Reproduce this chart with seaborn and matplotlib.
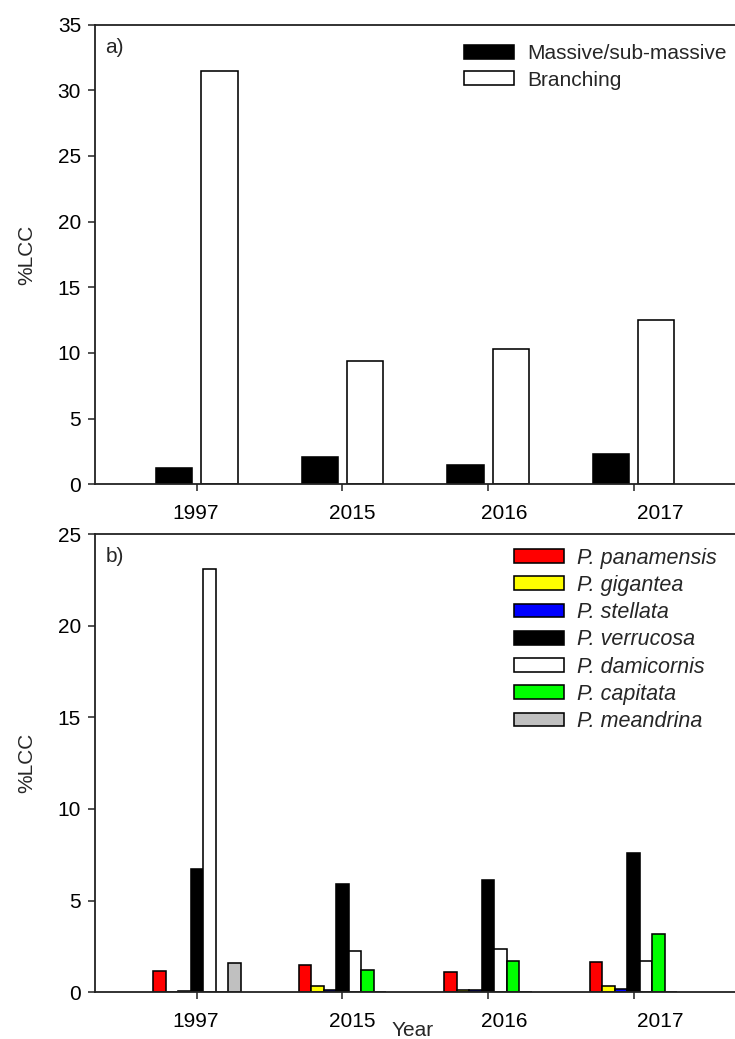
import numpy as np
import pandas as pd
import seaborn as sns
import matplotlib.pyplot as plt
import matplotlib.transforms as mtransforms

# data
years = ["1997", "2015", "2016", "2017"]

forms = ["Massive/sub-massive", "Branching"]
massive = [1.25, 2.05, 1.45, 2.28]
branching = [31.45, 9.42, 10.28, 12.5]

species = ["P. panamensis", "P. gigantea", "P. stellata", "P. verrucosa",
           "P. damicornis", "P. capitata", "P. meandrina"]
panamensis = [1.17, 1.5, 1.1, 1.65]
gigantea = [0.0, 0.33, 0.12, 0.33]
stellata = [0.05, 0.14, 0.12, 0.2]
verrucosa = [6.75, 5.9, 6.12, 7.58]
damicornis = [23.1, 2.25, 2.36, 1.7]
capitata = [0.0, 1.22, 1.72, 3.18]
meandrina = [1.58, 0.0, 0.0, 0.0]

form_colors = ["black", "white"]
species_colors = ["#ff0000", "#ffff00", "#0000ff", "black", "white", "#00ff00", "#c0c0c0"]

label_shift = [-1, 10, 16, 27]  # tick labels in the original drift to the right

df_a = pd.DataFrame({
    "year": years * 2,
    "form": np.repeat(forms, len(years)),
    "lcc": massive + branching,
})
sp_vals = [panamensis, gigantea, stellata, verrucosa, damicornis, capitata, meandrina]
df_b = pd.DataFrame({
    "year": years * len(species),
    "species": np.repeat(species, len(years)),
    "lcc": sum(sp_vals, []),
})

sns.set_theme(style="ticks")
plt.rcParams["font.family"] = ["Liberation Sans", "DejaVu Sans"]
plt.rcParams["axes.linewidth"] = 1.3
plt.rcParams["xtick.major.size"] = 5
plt.rcParams["ytick.major.size"] = 5
plt.rcParams["xtick.major.width"] = 1.1
plt.rcParams["ytick.major.width"] = 1.1
plt.rcParams["axes.edgecolor"] = "#222222"

FS = 15
W, H = 735, 1039
fig = plt.figure(figsize=(W / 100, H / 100), dpi=100)
ax1 = fig.add_axes([95 / W, 1 - 484.3 / H, 640.5 / W, (484.3 - 24.5) / H])
ax2 = fig.add_axes([95 / W, 1 - 992.3 / H, 640.5 / W, (992.3 - 534) / H])

sns.barplot(data=df_a, x="year", y="lcc", hue="form", palette=form_colors,
            width=0.62, gap=0.2, edgecolor="black", linewidth=1.15,
            saturation=1, errorbar=None, ax=ax1)
sns.barplot(data=df_b, x="year", y="lcc", hue="species", palette=species_colors,
            width=0.6, gap=0, edgecolor="black", linewidth=1.15,
            saturation=1, errorbar=None, ax=ax2)

for ax, top, step, tag in [(ax1, 35, 5, "a)"), (ax2, 25, 5, "b)")]:
    ax.set_xlim(-0.7, 3.7)
    ax.set_ylim(0, top)
    ax.set_yticks(np.arange(0, top + 1, step))
    ax.set_xticks(range(len(years)))
    ax.set_xticklabels(years)
    ax.tick_params(labelsize=FS, colors="#222222", labelcolor="black", pad=5)
    ax.tick_params(axis="x", pad=9)
    ax.spines["right"].set_visible(False)
    ax.set_xlabel("")
    ax.set_ylabel("%LCC", fontsize=FS)
    ax.yaxis.set_label_coords(-0.092, 0.5)
    ax.text(0.016, 0.95, tag, transform=ax.transAxes, fontsize=FS, va="center")
    for lab, dx in zip(ax.get_xticklabels(), label_shift):
        lab.set_transform(lab.get_transform() +
                          mtransforms.ScaledTranslation(dx / 100, 0, fig.dpi_scale_trans))

sns.move_legend(ax1, "upper left", bbox_to_anchor=(456 / W, 1 - 36 / H),
                bbox_transform=fig.transFigure, frameon=False, title=None,
                fontsize=FS, handlelength=2.4, handleheight=0.67,
                handletextpad=0.6, labelspacing=0.35, borderaxespad=0)
sns.move_legend(ax2, "upper left", bbox_to_anchor=(505 / W, 1 - 539 / H),
                bbox_transform=fig.transFigure, frameon=False, title=None,
                prop={"size": 15.5, "style": "italic"}, handlelength=2.33,
                handleheight=0.6, handletextpad=0.62, labelspacing=0.29,
                borderaxespad=0)

fig.text(392 / W, 1 - 1021 / H, "Year", fontsize=FS, ha="left", va="top")

fig.savefig("out.png", dpi=100)
